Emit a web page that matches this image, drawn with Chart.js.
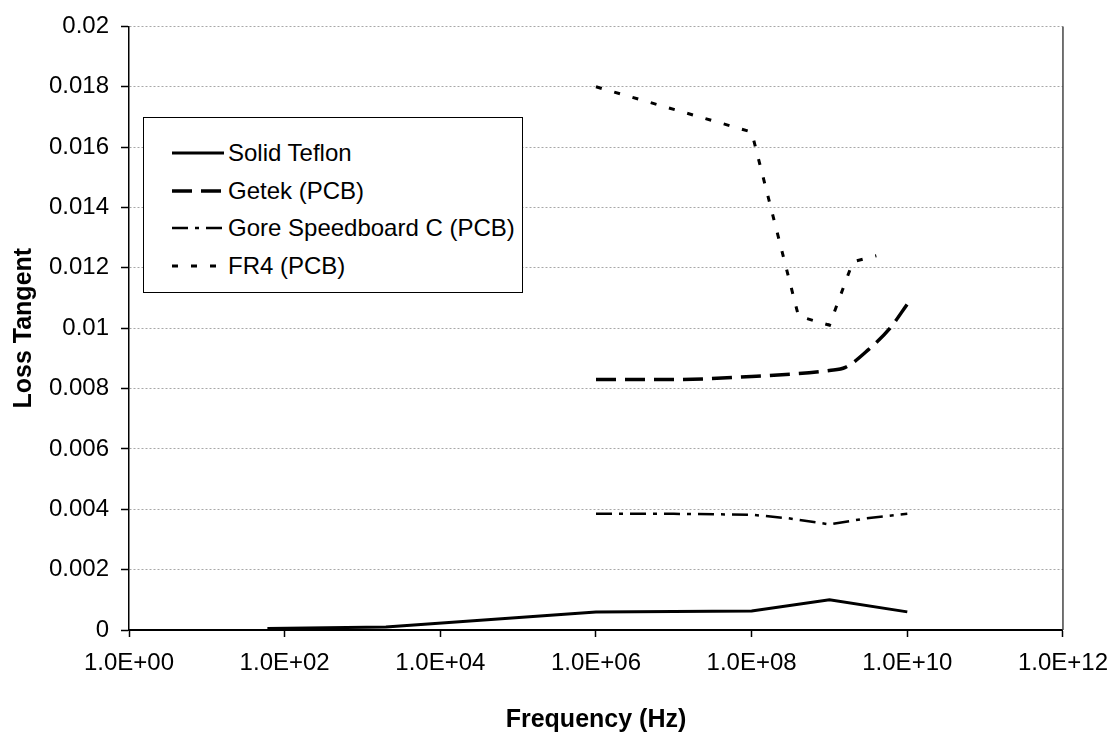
<!DOCTYPE html>
<html lang="en">
<head>
  <meta charset="UTF-8" />
  <title>Loss Tangent vs Frequency</title>
  <script src="https://cdn.jsdelivr.net/npm/chart.js"></script>
  <style>
    html, body { margin: 0; padding: 0; background: #fff; }
    #wrap { position: relative; width: 1120px; height: 755px; }
    #legend {
      position: absolute; left: 143px; top: 117px; width: 380px; height: 176px;
      border: 1px solid #000; background: #fff; box-sizing: border-box;
      font-family: "Liberation Sans", Arial, sans-serif; font-size: 24px; color: #000;
    }
    .item { position: absolute; left: 28px; height: 30px; display: flex; align-items: center; white-space: nowrap; }
    .item svg { margin-right: 4px; }
  </style>
</head>
<body>
  <div id="wrap">
    <canvas id="grafico" width="1120" height="755"></canvas>
    <div id="legend"></div>
  </div>

  <script>
    // series names
    const seriesNames = ['Solid Teflon', 'Getek (PCB)', 'Gore Speedboard C (PCB)', 'FR4 (PCB)'];

    // values (Hz, loss tangent)
    const teflonFreq = [60, 2000, 1e6, 1e8, 1e9, 1e10];
    const teflonLoss = [0.00005, 0.0001, 0.0006, 0.00063, 0.001, 0.0006];

    const getekFreq = [1e6, 1e7, 1e8, 1e9, 1.6e9, 3.2e9, 6e9, 1e10];
    const getekLoss = [0.0083, 0.0083, 0.0084, 0.0086, 0.0087, 0.0093, 0.0100, 0.0108];

    const goreFreq = [1e6, 1e7, 1e8, 3e8, 1e9, 3e9, 1e10];
    const goreLoss = [0.00385, 0.00385, 0.00382, 0.0037, 0.0035, 0.0037, 0.00385];

    const fr4Freq = [1e6, 1e8, 4e8, 1e9, 2e9, 4e9];
    const fr4Loss = [0.018, 0.0165, 0.0104, 0.0101, 0.0122, 0.0124];

    // axis ticks
    const xTicks = [1, 1e2, 1e4, 1e6, 1e8, 1e10, 1e12];
    const yMin = 0, yMax = 0.02, yStep = 0.002;

    const dashes = [[], [20, 9], [16, 7, 4, 7], [6, 13]];
    const widths = [3, 3.5, 2.5, 3];

    function pts(xs, ys) {
      return xs.map((x, i) => ({ x: x, y: ys[i] }));
    }

    function sci(v) {
      let s = v.toExponential(1).toUpperCase(); // 1.0E+2
      let parts = s.split('E');
      let exp = parts[1];
      let sign = exp[0];
      let num = exp.slice(1).padStart(2, '0');
      return parts[0] + 'E' + sign + num;
    }

    const font = "'Liberation Sans', Arial, sans-serif";

    const rightBorder = {
      id: 'rightBorder',
      afterDraw(chart) {
        const a = chart.chartArea;
        const c = chart.ctx;
        c.save();
        c.strokeStyle = '#444';
        c.lineWidth = 1.5;
        c.beginPath();
        c.moveTo(a.right, a.top);
        c.lineTo(a.right, a.bottom);
        c.stroke();
        c.restore();
      }
    };

    const series = [
      pts(teflonFreq, teflonLoss),
      pts(getekFreq, getekLoss),
      pts(goreFreq, goreLoss),
      pts(fr4Freq, fr4Loss)
    ];

    const ctx = document.getElementById('grafico').getContext('2d');
    const chart = new Chart(ctx, {
      type: 'line',
      data: {
        datasets: series.map((d, i) => ({
          label: seriesNames[i],
          data: d,
          borderColor: '#000',
          backgroundColor: '#000',
          borderWidth: widths[i],
          borderDash: dashes[i],
          pointRadius: 0,
          fill: false,
          tension: 0,
          cubicInterpolationMode: i === 1 ? 'monotone' : 'default'
        }))
      },
      options: {
        responsive: false,
        animation: false,
        layout: { padding: { top: 15, right: 55, left: 0, bottom: 0 } },
        plugins: {
          legend: { display: false },
          tooltip: { enabled: false }
        },
        scales: {
          x: {
            type: 'logarithmic',
            min: 1,
            max: 1e12,
            afterBuildTicks: (scale) => {
              scale.ticks = xTicks.map(v => ({ value: v }));
            },
            afterFit: (scale) => { scale.height = 125; },
            ticks: {
              autoSkip: false,
              maxRotation: 0,
              padding: 12,
              color: '#000',
              font: { family: font, size: 24 },
              callback: (v) => sci(v)
            },
            grid: {
              drawOnChartArea: false,
              drawTicks: true,
              tickLength: 7,
              tickColor: '#000',
              tickWidth: 1.5
            },
            border: { color: '#000', width: 2 },
            title: {
              display: true,
              text: 'Frequency (Hz)',
              color: '#000',
              font: { family: font, size: 25, weight: 'bold' },
              padding: { top: 0, bottom: 20 }
            }
          },
          y: {
            min: yMin,
            max: yMax,
            afterFit: (scale) => { scale.width = 129; },
            ticks: {
              stepSize: yStep,
              padding: 12,
              color: '#000',
              font: { family: font, size: 24 },
              callback: (v) => String(Number(v.toFixed(3)))
            },
            grid: {
              color: '#a8a8a8',
              lineWidth: 1,
              drawTicks: true,
              tickLength: 8,
              tickColor: '#000',
              tickWidth: 1.5,
              tickBorderDash: []
            },
            border: { color: '#000', width: 1.5, dash: [2, 2] },
            title: {
              display: true,
              text: 'Loss Tangent',
              color: '#000',
              font: { family: font, size: 25, weight: 'bold' },
              padding: { top: 9, bottom: 0 }
            }
          }
        }
      },
      plugins: [rightBorder]
    });

    // legend box inside the plot
    const legendTops = [137, 175, 212, 250];
    const legend = document.getElementById('legend');
    chart.data.datasets.forEach((ds, i) => {
      const item = document.createElement('div');
      item.className = 'item';
      item.style.top = (legendTops[i] - 117) + 'px';
      const dash = ds.borderDash.length ? ds.borderDash.join(' ') : 'none';
      item.innerHTML =
        '<svg width="52" height="10"><line x1="0" y1="5" x2="52" y2="5" stroke="#000" stroke-width="' +
        ds.borderWidth + '" stroke-dasharray="' + dash + '"/></svg><span>' + ds.label + '</span>';
      legend.appendChild(item);
    });
  </script>
</body>
</html>
